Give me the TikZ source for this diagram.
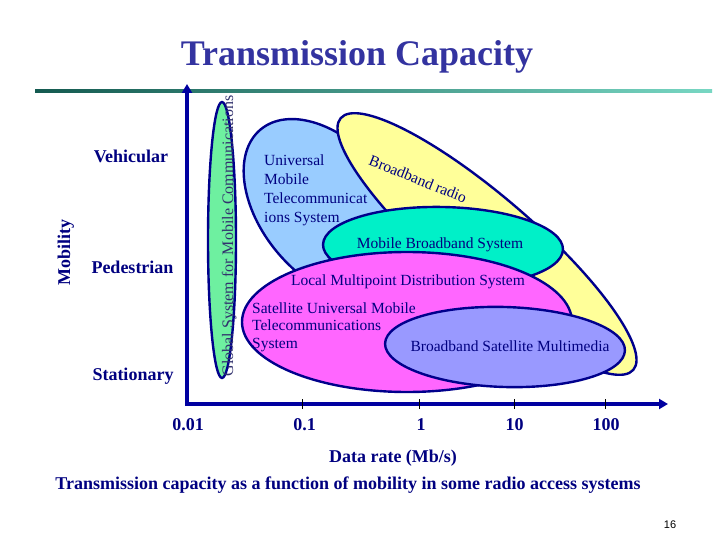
\documentclass[tikz,border=0pt]{standalone}
\usepackage{fontspec}
\setmainfont{Liberation Serif}
\newfontfamily\pagenumfont{Liberation Sans}
\usetikzlibrary{arrows.meta}
\definecolor{navytext}{RGB}{0,0,128}
\definecolor{axisblue}{RGB}{0,0,160}
\definecolor{edgeblue}{RGB}{0,0,140}
\definecolor{titleblue}{RGB}{51,51,160}
\definecolor{gsmgreen}{RGB}{110,240,160}
\definecolor{umtsblue}{RGB}{153,204,255}
\definecolor{radioyellow}{RGB}{255,255,153}
\definecolor{mbsturq}{RGB}{0,240,200}
\definecolor{lmdspink}{RGB}{255,102,255}
\definecolor{bsmblue}{RGB}{153,153,255}
\definecolor{gsmtext}{RGB}{50,50,110}
\definecolor{ruledark}{RGB}{20,90,80}
\definecolor{rulelight}{RGB}{120,215,195}

\begin{document}
\begin{tikzpicture}[x=1pt,y=-1pt,
  region/.style={draw=edgeblue,line width=2.4pt},
  regiontext/.style={text=navytext,inner sep=0pt,font=\fontsize{15.5}{19}\selectfont},
  axislabel/.style={text=navytext,inner sep=0pt,anchor=base,font=\bfseries\fontsize{18}{20}\selectfont}]
  \fill[white] (0,0) rectangle (720,540);
  \useasboundingbox (0,0) rectangle (720,540);

  % Title
  \node[anchor=base,text=titleblue,font=\bfseries\fontsize{36}{40}\selectfont] (Title) at (357,66) {Transmission Capacity};
  \shade[left color=ruledark,right color=rulelight] (35,89.5) rectangle (712,92.5);

  % Systems
  \filldraw[region,fill=gsmgreen] (222,240) ellipse [x radius=14pt,y radius=138pt];
  \node[rotate=90,anchor=base,inner sep=0pt,text=gsmtext,font=\fontsize{16}{18}\selectfont] (GSM) at (233,236) {Global System for Mobile Communications};
  \filldraw[region,fill=umtsblue,rotate around={-50:(328,210)}] (328,210) ellipse [x radius=105pt,y radius=66pt];
  \filldraw[region,fill=radioyellow,rotate around={-40.7:(487,244)}] (487,244) ellipse [x radius=193pt,y radius=47pt];
  \filldraw[region,fill=mbsturq,rotate around={-1.2:(443,247)}] (443,247) ellipse [x radius=120pt,y radius=40pt];
  \filldraw[region,fill=lmdspink] (407,322) ellipse [x radius=165pt,y radius=70pt];
  \filldraw[region,fill=bsmblue,rotate around={-1.7:(505,347)}] (505,347) ellipse [x radius=120pt,y radius=40pt];

  \node[regiontext,align=left,anchor=north west] (UMTS) at (264,154.5) {Universal\\Mobile\\Telecommunicat\\ions System};
  \node[regiontext,rotate=-22] (Radio) at (418,179) {Broadband radio};
  \node[regiontext,anchor=base] (MBS) at (440,248) {Mobile Broadband System};
  \node[regiontext,anchor=base] (LMDS) at (408,285) {Local Multipoint Distribution System};
  \node[regiontext,align=left,anchor=north west,font=\fontsize{15.5}{17.5}\selectfont] (SUMTS) at (252,302.5) {Satellite Universal Mobile\\Telecommunications\\System};
  \node[regiontext,anchor=base] (BSM) at (510,351) {Broadband Satellite Multimedia};

  % Axes
  \coordinate (Origin) at (187,404);
  \coordinate (YTip) at (187,84);
  \coordinate (XTip) at (668,404);
  \draw[axisblue,line width=4pt,{Triangle[length=9pt,width=10pt]}-{Triangle[length=9pt,width=10pt]}] (YTip) -- (Origin) -- (XTip);
  \foreach \tx in {302,419,514,605}
    \draw[black,line width=0.7pt] (\tx,399) -- (\tx,409);

  % Mobility
  \node[axislabel,rotate=90] (Mobility) at (70,252.5) {Mobility};
  \node[axislabel] (Vehicular) at (131,163) {Vehicular};
  \node[axislabel] (Pedestrian) at (132.5,273) {Pedestrian};
  \node[axislabel] (Stationary) at (133,380) {Stationary};

  % Data rate
  \node[axislabel] (RateA) at (188,430) {0.01};
  \node[axislabel] (RateB) at (304.5,430) {0.1};
  \node[axislabel] (RateC) at (421,430) {1};
  \node[axislabel] (RateD) at (514.5,430) {10};
  \node[axislabel] (RateE) at (606,430) {100};
  \node[axislabel] (DataRate) at (393,462) {Data rate (Mb/s)};
  \node[axislabel] (Caption) at (348,489) {Transmission capacity as a function of mobility in some radio access systems};

  \node[anchor=base,inner sep=0pt,font=\pagenumfont\fontsize{11}{13}\selectfont] (Page) at (670,528) {16};
\end{tikzpicture}
\end{document}
